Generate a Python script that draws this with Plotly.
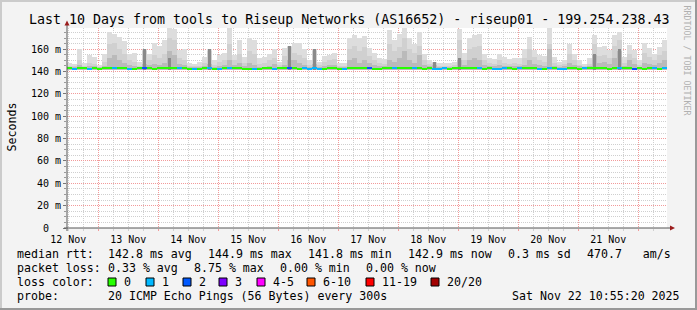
import plotly.graph_objects as go
import pandas as pd

# ---------------- data ----------------
START = "2025-11-12 11:30:00"
END = "2025-11-22 11:30:00"
BIN_HOURS = 2  # each smoke column summarises 2 h of probes

# smoke: top of the lightest layer (max ping) per bin, ms
smoke_max = [148, 147, 160, 148, 155, 153, 146, 156, 175.5, 174,
             171, 167, 156, 157, 149, 160, 156, 166, 163, 168,
             178.6, 178, 159, 160, 148, 147, 149, 153, 160, 150,
             155, 157, 178.6, 155, 168, 153, 170, 168, 152, 153,
             156, 160, 149, 161, 163, 166, 166, 160, 150, 160,
             149, 154, 155, 157, 148, 148, 170, 172.6, 170, 172,
             161, 157, 152, 151, 177, 168, 174, 178.6, 170, 165,
             175.5, 156, 150, 149, 148, 147.5, 147.5, 149, 178, 157,
             170, 172.6, 174, 156, 152, 151, 156, 153, 151, 152,
             152, 160, 171, 159, 155, 154, 178.6, 153, 149, 150,
             165, 156, 150, 147, 152, 172.6, 162, 163, 159, 173,
             175.5, 153, 164, 159, 150, 166, 161, 156, 162, 168]
# top of the medium-grey layer
smoke_mid = [145, 145, 150, 145, 148, 147, 144, 149, 165, 166,
             160, 156, 150, 149, 145, 158, 150, 155, 152, 156,
             170, 168, 152, 150, 145, 145, 145, 148, 158, 146,
             149, 150, 165, 150, 156, 148, 158, 156, 147, 148,
             150, 152, 146, 154, 162, 157, 155, 152, 146, 158,
             146, 149, 150, 151, 145, 145, 160, 163, 158, 162,
             154, 150, 148, 147, 165, 158, 162, 170, 160, 157,
             163, 150, 147, 148, 145, 145, 145, 146, 168, 150,
             160, 162, 163, 150, 148, 147, 150, 148, 147, 148,
             147, 152, 160, 153, 150, 149, 165, 148, 146, 147,
             156, 150, 146, 145, 147, 165, 154, 155, 152, 163,
             168, 148, 156, 152, 146, 157, 153, 150, 155, 158]
# top of the dark-grey layer
smoke_dark = [144.5, 144.5, 146, 144.5, 145, 145, 144, 145, 152, 155,
              150, 148, 146, 145, 144.5, 147, 146, 147, 146, 148,
              158, 155, 147, 146, 144.5, 144.5, 144.5, 145, 147, 144.5,
              145, 146, 150, 146, 148, 145, 148, 146, 144.5, 144.5,
              145, 147, 144.5, 146, 150, 150, 148, 146, 144.5, 147,
              144.5, 145, 146, 146, 144.5, 144.5, 150, 152, 148, 150,
              148, 146, 145, 145, 150, 149, 152, 158, 150, 148,
              155, 146, 145, 146, 144.5, 144.5, 144.5, 144.5, 150, 146,
              150, 152, 150, 146, 145, 145, 146, 145, 145, 145,
              145, 146, 150, 147, 146, 145, 160, 145, 144.5, 145,
              148, 146, 145, 144.5, 145, 155, 148, 149, 147, 152,
              158, 145, 150, 147, 144.5, 148, 147, 146, 148, 150]
# darkest smoke cores (only a few bins)
core_bins = [15, 20, 28, 44, 49, 73, 78, 105, 110]
core_top = [160, 152, 160, 163, 160, 148.5, 152, 156, 160]
SMOKE_FLOOR = 141.4  # lowest ping, ms

# median rtt per bin, ms
median_rtt = [142.9, 142.7, 143.0, 142.8, 142.6, 142.9, 142.7, 142.8, 143.1, 143.0,
              142.8, 142.9, 142.6, 142.7, 142.9, 143.0, 142.8, 142.7, 142.9, 143.2,
              143.4, 143.1, 142.8, 142.9, 142.6, 142.5, 142.7, 142.8, 142.9, 142.6,
              142.7, 142.9, 143.0, 142.8, 142.9, 142.7, 142.4, 142.3, 142.6, 142.8,
              142.9, 142.7, 142.8, 142.9, 143.0, 142.8, 142.6, 142.9, 142.7, 142.8,
              142.5, 142.7, 142.9, 142.8, 142.6, 142.7, 143.1, 143.3, 143.0, 142.9,
              142.8, 142.7, 142.6, 142.8, 143.0, 142.9, 143.1, 143.2, 142.9, 142.8,
              142.9, 142.7, 142.8, 142.5, 142.6, 142.8, 142.7, 142.9, 143.4, 142.9,
              142.8, 143.0, 142.9, 142.7, 142.8, 142.6, 142.7, 142.9, 142.8, 142.7,
              142.8, 142.9, 143.0, 142.8, 142.7, 142.6, 142.9, 142.8, 142.4, 142.6,
              142.8, 142.9, 142.7, 142.8, 142.9, 143.1, 142.9, 142.8, 142.7, 142.9,
              143.0, 142.8, 142.9, 142.7, 142.8, 142.6, 142.9, 142.8, 142.7, 142.9]
# packet-loss class per bin (index into loss_labels)
loss_class = [0, 1, 0, 0, 1, 0, 0, 0, 0, 1,
              0, 0, 1, 0, 0, 2, 0, 0, 0, 0,
              0, 0, 1, 0, 0, 1, 0, 0, 1, 0,
              1, 0, 1, 0, 0, 0, 0, 1, 0, 0,
              0, 1, 0, 0, 2, 0, 0, 1, 1, 1,
              1, 0, 0, 0, 0, 1, 0, 0, 0, 0,
              2, 0, 0, 0, 0, 1, 0, 0, 0, 1,
              0, 0, 0, 1, 1, 1, 0, 0, 0, 0,
              0, 0, 1, 0, 0, 1, 1, 1, 0, 0,
              1, 0, 0, 0, 1, 0, 1, 0, 1, 1,
              0, 0, 0, 1, 0, 0, 0, 0, 0, 0,
              1, 0, 0, 2, 0, 0, 0, 1, 0, 1]

loss_labels = ["0", "1", "2", "3", "4-5", "6-10", "11-19", "20/20"]
loss_colors = ["#26ff00", "#00b8ff", "#0059ff", "#7e00ff", "#ff00ff", "#ff5500", "#ff0000", "#a10000"]

y_tick_vals = [0, 20, 40, 60, 80, 100, 120, 140, 160]
y_tick_text = ["0\u00a0\u00a0", "20 m", "40 m", "60 m", "80 m", "100 m", "120 m", "140 m", "160 m"]

title_text = "Last 10 Days from tools to Riseup Networks (AS16652) - riseup01 - 199.254.238.43"
rtt_items = ["median rtt:", "142.8 ms avg", "144.9 ms max", "141.8 ms min", "142.9 ms now", "0.3 ms sd", "470.7   am/s"]
loss_items = ["packet loss:", "0.33 % avg", "8.75 % max", "0.00 % min", "0.00 % now"]
probe_text = "20 ICMP Echo Pings (56 Bytes) every 300s"
stamp_text = "Sat Nov 22 10:55:20 2025"

# ---------------- layout helpers ----------------
W, H = 697, 310
L, R, T, B = 67, 667, 28, 228
MONO = "DejaVu Sans Mono"


def px(x):
    return (x - L) / (R - L)


def py(y):
    return (B - y) / (B - T)


t0 = pd.Timestamp(START)
bin_ms = BIN_HOURS * 3600 * 1000
centers = [t0 + pd.Timedelta(hours=BIN_HOURS * (i + 0.5)) for i in range(len(smoke_max))]

fig = go.Figure()


def smoke_layer(tops, color):
    fig.add_trace(go.Bar(
        x=centers, base=SMOKE_FLOOR, y=[t - SMOKE_FLOOR for t in tops],
        width=bin_ms, marker=dict(color=color, line=dict(width=0)),
        hoverinfo="skip", showlegend=False))


smoke_layer(smoke_max, "#dddddd")
smoke_layer(smoke_mid, "#d0d0d0")
smoke_layer(smoke_dark, "#bababa")
fig.add_trace(go.Bar(
    x=[centers[i] for i in core_bins], base=SMOKE_FLOOR,
    y=[t - SMOKE_FLOOR for t in core_top], width=bin_ms * 0.5,
    marker=dict(color="#8a8a8a", line=dict(width=0)), hoverinfo="skip", showlegend=False))

MED_H = 1.8
fig.add_trace(go.Bar(
    x=centers, base=[m - MED_H / 2 for m in median_rtt], y=[MED_H] * len(median_rtt),
    width=bin_ms, marker=dict(color=[loss_colors[c] for c in loss_class], line=dict(width=0)),
    hoverinfo="skip", showlegend=False))

MAJOR = "#f29a9a"
MINOR = "#cfcfcf"
DASH = "1px,1px"

fig.update_layout(
    width=W, height=H, margin=dict(l=L, r=W - R, t=T, b=H - B, pad=0),
    paper_bgcolor="#f3f3f3", plot_bgcolor="#ffffff",
    barmode="overlay", bargap=0, showlegend=False, hovermode=False,
    font=dict(family=MONO, color="#000000"),
    xaxis=dict(type="date", range=[START, END], tick0="2025-11-12", dtick=86400000,
               ticklabelmode="period", tickformat="%d %b",
               showgrid=True, gridcolor=MAJOR, griddash=DASH, gridwidth=1,
               ticks="outside", ticklen=2, tickcolor=MAJOR,
               tickfont=dict(family=MONO, size=10, color="#000"),
               showline=False, zeroline=False, fixedrange=True,
               minor=dict(dtick=21600000, tick0="2025-11-12", showgrid=True, gridcolor=MINOR,
                          griddash=DASH, gridwidth=1, ticks="outside", ticklen=2, tickcolor=MINOR)),
    yaxis=dict(range=[0, 179], tickvals=y_tick_vals, ticktext=y_tick_text,
               showgrid=True, gridcolor=MAJOR, griddash=DASH, gridwidth=1,
               ticks="outside", ticklen=3, tickcolor="#777777",
               tickfont=dict(family=MONO, size=10, color="#000"),
               showline=False, zeroline=False, fixedrange=True,
               minor=dict(dtick=5, tick0=0, showgrid=True, gridcolor=MINOR, griddash=DASH,
                          gridwidth=1, ticks="outside", ticklen=2, tickcolor="#999999")),
)

ann = []


def text(x, y, s, size=11.6, xanchor="left", color="#000", angle=0, family=MONO):
    ann.append(dict(x=px(x), y=py(y), xref="paper", yref="paper", text=s, showarrow=False,
                    xanchor=xanchor, yanchor="middle", borderpad=0, textangle=angle,
                    font=dict(family=family, size=size, color=color)))


text(348.5, 19, title_text, size=13.3, xanchor="center")
text(11, 127.5, "Seconds", size=11.6, xanchor="center", angle=-90)
text(686.5, 60, "RRDTOOL / TOBI OETIKER", size=8.3, xanchor="center", angle=90, color="#b0b0b0")

for s, x in zip(rtt_items, [16, 107, 207, 307, 407, 507, 586]):
    text(x, 254, s)
for s, x in zip(loss_items, [16, 107, 193, 279, 365]):
    text(x, 268, s)
text(16, 282, "loss color:")
box_x = [108, 146, 183, 219, 257, 307, 366, 431]
shapes = []
for lab, col, bx in zip(loss_labels, loss_colors, box_x):
    shapes.append(dict(type="rect", xref="paper", yref="paper", x0=px(bx), x1=px(bx + 8),
                       y0=py(286), y1=py(278), fillcolor=col, line=dict(color="#000", width=1)))
    text(bx + 15, 282, lab)
text(16, 296, "probe:")
text(107, 296, probe_text)
text(681, 296, stamp_text, xanchor="right")

# frame (3D border)
shapes += [
    dict(type="line", xref="paper", yref="paper", x0=px(0), x1=px(697), y0=py(1), y1=py(1),
         line=dict(color="#cbcbcb", width=2)),
    dict(type="line", xref="paper", yref="paper", x0=px(1), x1=px(1), y0=py(0), y1=py(310),
         line=dict(color="#cbcbcb", width=2)),
    dict(type="line", xref="paper", yref="paper", x0=px(0), x1=px(697), y0=py(309), y1=py(309),
         line=dict(color="#999999", width=2)),
    dict(type="line", xref="paper", yref="paper", x0=px(696), x1=px(696), y0=py(0), y1=py(310),
         line=dict(color="#999999", width=2)),
]
# axes with arrows
AX = "#555555"
ARROW = "#9b1c1c"
shapes += [
    dict(type="line", xref="paper", yref="paper", x0=px(64), x1=px(670), y0=py(228), y1=py(228),
         line=dict(color=AX, width=1)),
    dict(type="line", xref="paper", yref="paper", x0=px(67), x1=px(67), y0=py(231), y1=py(25),
         line=dict(color=AX, width=1)),
    dict(type="path", xref="paper", yref="paper",
         path=f"M {px(64.5)},{py(25.5)} L {px(69.5)},{py(25.5)} L {px(67)},{py(20.5)} Z",
         fillcolor=ARROW, line=dict(color=ARROW, width=0)),
    dict(type="path", xref="paper", yref="paper",
         path=f"M {px(670)},{py(225.5)} L {px(670)},{py(230.5)} L {px(675)},{py(228)} Z",
         fillcolor=ARROW, line=dict(color=ARROW, width=0)),
]

fig.update_layout(annotations=ann, shapes=shapes)
fig.write_html("out.html")
